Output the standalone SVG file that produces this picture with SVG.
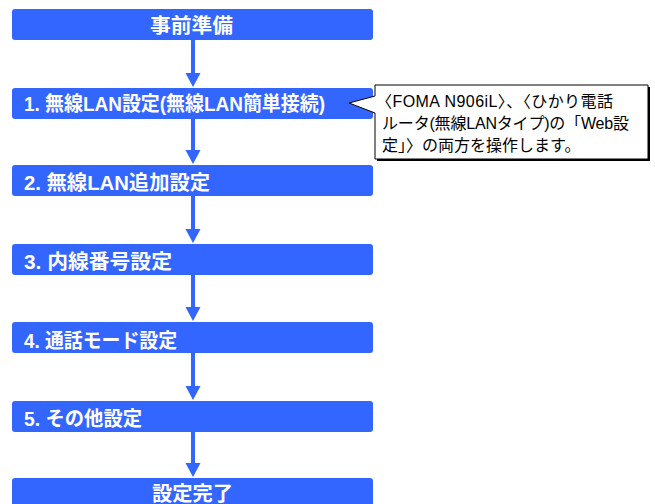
<svg xmlns="http://www.w3.org/2000/svg" width="655" height="504" viewBox="0 0 655 504">
<style>
.box{fill:#3366ff}
.lbl{fill:#ffffff;font-family:"Liberation Sans","Noto Sans CJK JP",sans-serif;font-weight:bold;font-size:20px}
.arr{stroke:#3366ff;stroke-width:4;fill:none}
.head{fill:#3366ff}
.note{fill:#000000;font-family:"Liberation Sans","Noto Sans CJK JP",sans-serif;font-size:16px}
</style>
<rect width="655" height="504" fill="#ffffff"/>
<g id="connectors">
<line class="arr" x1="193" y1="40" x2="193" y2="74"/><polygon class="head" points="185.5,73 200.5,73 193,87"/>
<line class="arr" x1="193" y1="119" x2="193" y2="151"/><polygon class="head" points="185.5,150 200.5,150 193,164"/>
<line class="arr" x1="193" y1="196" x2="193" y2="230"/><polygon class="head" points="185.5,229 200.5,229 193,243"/>
<line class="arr" x1="193" y1="275" x2="193" y2="308"/><polygon class="head" points="185.5,307 200.5,307 193,321"/>
<line class="arr" x1="193" y1="353" x2="193" y2="387"/><polygon class="head" points="185.5,386 200.5,386 193,400"/>
<line class="arr" x1="193" y1="432" x2="193" y2="464"/><polygon class="head" points="185.5,463 200.5,463 193,477"/>
</g>
<g id="n0"><rect class="box" x="12" y="9" width="361" height="31" rx="3"/><text class="lbl" x="150" y="33" textLength="83" lengthAdjust="spacingAndGlyphs">事前準備</text></g>
<g id="n1"><rect class="box" x="12" y="88" width="361" height="31" rx="3"/><text class="lbl" x="24" y="111" textLength="301" lengthAdjust="spacingAndGlyphs">1. 無線LAN設定(無線LAN簡単接続)</text></g>
<g id="n2"><rect class="box" x="12" y="165" width="361" height="31" rx="3"/><text class="lbl" x="24" y="190" textLength="186" lengthAdjust="spacingAndGlyphs">2. 無線LAN追加設定</text></g>
<g id="n3"><rect class="box" x="12" y="244" width="361" height="31" rx="3"/><text class="lbl" x="24" y="269" textLength="148" lengthAdjust="spacingAndGlyphs">3. 内線番号設定</text></g>
<g id="n4"><rect class="box" x="12" y="322" width="361" height="31" rx="3"/><text class="lbl" x="24" y="348" textLength="153" lengthAdjust="spacingAndGlyphs">4. 通話モード設定</text></g>
<g id="n5"><rect class="box" x="12" y="401" width="361" height="31" rx="3"/><text class="lbl" x="24" y="426" textLength="118" lengthAdjust="spacingAndGlyphs">5. その他設定</text></g>
<g id="n6"><rect class="box" x="12" y="478" width="361" height="40" rx="3"/><text class="lbl" x="152" y="501" textLength="81" lengthAdjust="spacingAndGlyphs">設定完了</text></g>
<g id="callout">
<path d="M377,87 H650 V161 H377 Z" fill="#000000"/>
<path d="M375,85 H648 V159 H375 V113 L349,103 L375,96 Z" fill="#ffffff" stroke="#000000" stroke-width="1"/>
<text class="note" x="376" y="107" textLength="237" lengthAdjust="spacing">〈FOMA N906iL〉、〈ひかり電話</text>
<text class="note" x="382" y="129" textLength="247" lengthAdjust="spacing">ルータ(無線LANタイプ)の「Web設</text>
<text class="note" x="382" y="151">定」〉の両方を操作します。</text>
</g>
</svg>
